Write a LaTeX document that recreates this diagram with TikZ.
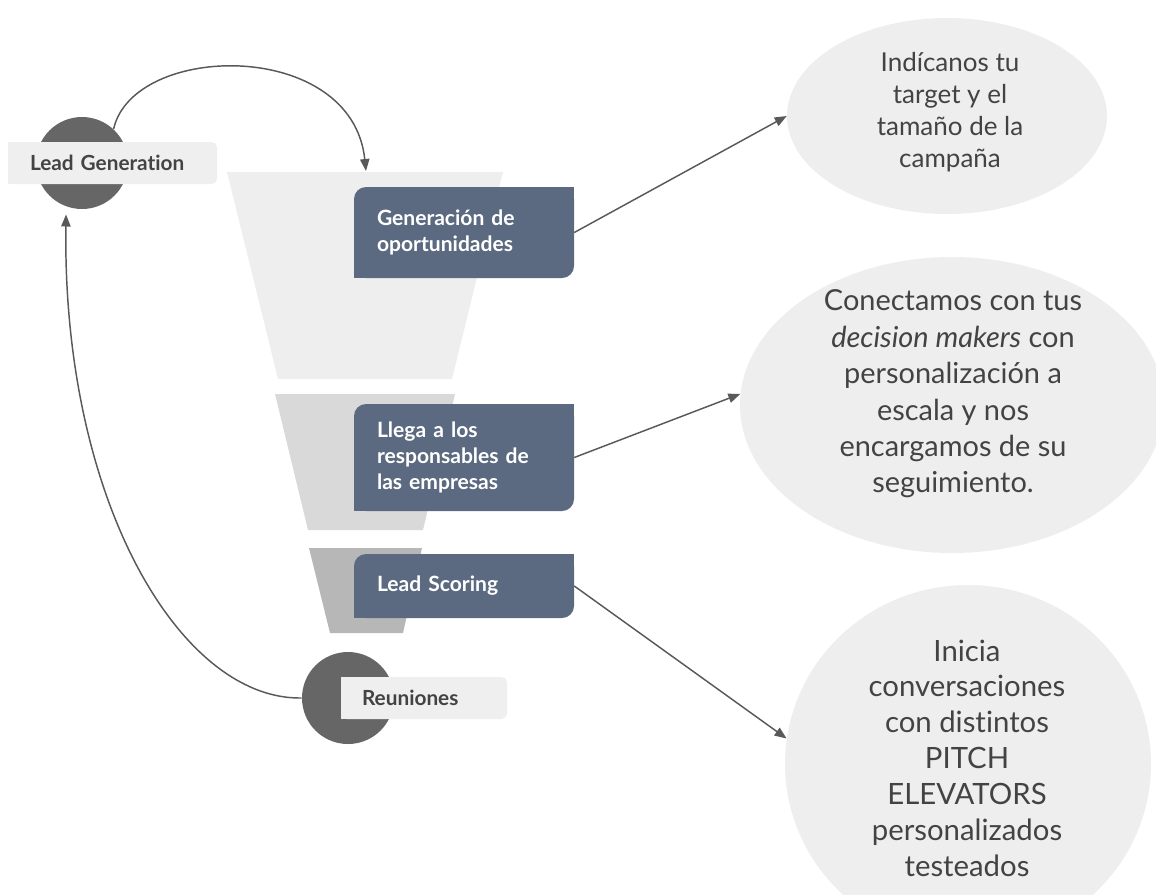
\documentclass[tikz,border=0pt]{standalone}
\usepackage{fontspec}
\setmainfont{Lato}[Ligatures={NoCommon,NoDiscretionary}]
\usetikzlibrary{arrows.meta,shapes.geometric}
\definecolor{boxblue}{HTML}{5B6A80}
\definecolor{darkcirc}{HTML}{666666}
\definecolor{lblgray}{HTML}{EFEFEF}
\definecolor{fun1}{HTML}{EEEEEE}
\definecolor{fun2}{HTML}{D9D9D9}
\definecolor{fun3}{HTML}{B7B7B7}
\definecolor{ellgray}{HTML}{EEEEEE}
\definecolor{txtdark}{HTML}{434343}
\definecolor{arrowgray}{HTML}{595959}
\begin{document}
\begin{tikzpicture}[x=0.75pt,y=-0.75pt,
  conn/.style={draw=arrowgray, line width=1.1pt, -{Triangle[length=9pt,width=7pt]}},
  bluebox/.style={fill=boxblue, rounded corners=9pt, text=white,
    font=\bfseries\fontsize{15.8}{19.5}\selectfont, align=left,
    inner xsep=17.25pt, inner ysep=0pt, text width=130.5pt, minimum width=165pt},
  graylabel/.style={fill=lblgray, rounded corners=4pt, text=txtdark,
    font=\bfseries\fontsize{15.6}{18}\selectfont, align=left, inner ysep=0pt, minimum height=31.5pt},
  darkdot/.style={circle, fill=darkcirc, minimum size=69pt, inner sep=0pt},
  bubble/.style={ellipse, fill=ellgray, inner sep=0pt},
  bubbletext/.style={text=txtdark, align=center, inner sep=0pt}
]
\useasboundingbox (0,0) rectangle (1156,894);
\clip (0,0) rectangle (1156,894);

% funnel
\fill[fun1] (227,172) -- (503,172) -- (452,379) -- (278,379) -- cycle;
\fill[fun2] (275,394) -- (455,394) -- (423,530) -- (308,530) -- cycle;
\fill[fun3] (309,548) -- (422,548) -- (403,633) -- (330,633) -- cycle;
\coordinate (ftop) at (366,171);

% ellipses
\node[bubble, minimum width=240pt, minimum height=147pt] (e1) at (947,116) {};
\node[bubble, minimum width=318pt, minimum height=222pt] (e2) at (952,405) {};
\node[bubble, minimum width=274.5pt, minimum height=268.5pt] (e3) at (968,764) {};

\node[bubbletext, font=\fontsize{19.5}{24}\selectfont] (t1) at (950,112)
  {Indícanos tu\\target y el\\tamaño de la\\campaña};
\node[bubbletext, font=\fontsize{21.7}{27.3}\selectfont] (t2) at (953,394)
  {Conectamos con tus\\\textit{decision makers} con\\personalización a\\escala y nos\\encargamos de su\\seguimiento.};
\node[bubbletext, font=\fontsize{22}{26.9}\selectfont] (t3) at (967,758)
  {Inicia\\conversaciones\\con distintos\\PITCH\\ELEVATORS\\personalizados\\testeados};

% blue boxes
\node[bluebox, minimum height=68.25pt] (b1) at (464,232.5) {Generación de\\oportunidades};
\fill[boxblue] (b1.north east) rectangle ++(-16,16);
\fill[boxblue] (b1.south west) rectangle ++(16,-16);
\node[bluebox, minimum height=80.25pt] (b2) at (464,457.5) {Llega a los\\responsables de\\las empresas};
\fill[boxblue] (b2.north east) rectangle ++(-16,16);
\fill[boxblue] (b2.south west) rectangle ++(16,-16);
\node[bluebox, minimum height=48pt] (b3) at (464,586) {Lead Scoring};
\fill[boxblue] (b3.north east) rectangle ++(-16,16);
\fill[boxblue] (b3.south west) rectangle ++(16,-16);

% circles and labels
\node[darkdot] (lgc) at (82,163) {};
\node[darkdot] (reuc) at (348,698) {};
\node[graylabel, text width=123.75pt, inner xsep=16.5pt] (lg) at (112.5,163) {Lead Generation};
\fill[lblgray] (lg.north west) rectangle ++(8,8);
\fill[lblgray] (lg.south west) rectangle ++(8,-8);
\node[graylabel, text width=93pt, inner xsep=15.75pt] (reu) at (424,698) {Reuniones};
\fill[lblgray] (reu.north west) rectangle ++(8,8);
\fill[lblgray] (reu.south west) rectangle ++(8,-8);

% connectors
\draw[conn] (lgc.47) .. controls (133,42) and (352,38) .. (ftop);
\draw[conn, shorten >=6pt] (reuc.west) .. controls (180,700) and (62,500) .. (lgc.250);
\draw[conn] (b1.east) -- (e1.west);
\draw[conn] (b2.east) -- (e2.177);
\draw[conn] (b3.east) -- (e3.172);
\end{tikzpicture}
\end{document}
